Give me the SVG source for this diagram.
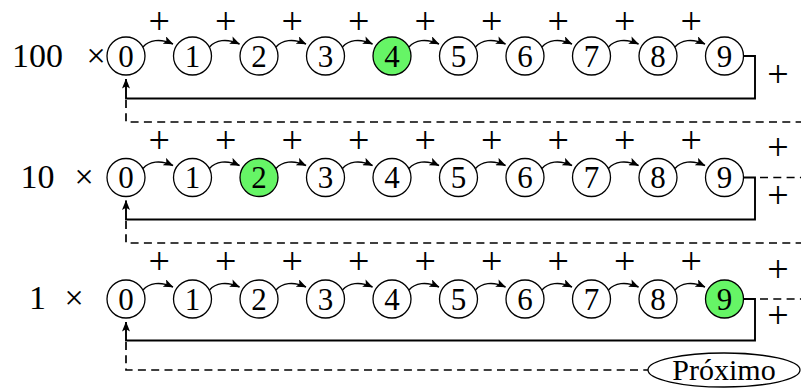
<svg xmlns="http://www.w3.org/2000/svg" width="801" height="388" viewBox="0 0 801 388" font-family="'Liberation Serif', 'DejaVu Serif', serif">
<style>
text{font-family:"Liberation Serif","DejaVu Serif",serif;fill:#000}
.n circle{fill:#fff;stroke:#000;stroke-width:1.3}
.n.g circle{fill:#66f566}
.n text{font-size:31px;text-anchor:middle}
.lab{font-size:34px;text-anchor:middle}
.pl{font-size:38px;text-anchor:middle}
.arc{fill:none;stroke:#000;stroke-width:1.4;marker-end:url(#ah)}
.ret{fill:none;stroke:#000;stroke-width:1.9;marker-end:url(#ah)}
.ds{fill:none;stroke:#000;stroke-width:1.7;stroke-dasharray:8 5.3}
</style>
<defs>
<marker id="ah" viewBox="0 0 10 8" refX="9.5" refY="4" markerWidth="10" markerHeight="8" markerUnits="userSpaceOnUse" orient="auto"><path d="M0,0 L10,4 L0,8 L2.2,4 Z" fill="#000"/></marker>
</defs>

<g id="labels">
<text class="lab" y="67"><tspan x="37.5">100</tspan><tspan x="96">×</tspan></text>
<text class="lab" y="188"><tspan x="37.5">10</tspan><tspan x="84">×</tspan></text>
<text class="lab" y="309"><tspan x="37.5">1</tspan><tspan x="74">×</tspan></text>
</g>

<g id="connectors">
<path class="arc" d="M143,47 C149,40 160,38 173,44"/>
<path class="arc" d="M209.5,47 C215.5,40 226.5,38 239.5,44"/>
<path class="arc" d="M276,47 C282,40 293,38 306,44"/>
<path class="arc" d="M342.5,47 C348.5,40 359.5,38 372.5,44"/>
<path class="arc" d="M409,47 C415,40 426,38 439,44"/>
<path class="arc" d="M475.5,47 C481.5,40 492.5,38 505.5,44"/>
<path class="arc" d="M542,47 C548,40 559,38 572,44"/>
<path class="arc" d="M608.5,47 C614.5,40 625.5,38 638.5,44"/>
<path class="arc" d="M675,47 C681,40 692,38 705,44"/>
<path class="arc" d="M143,168.5 C149,161.5 160,159.5 173,165.5"/>
<path class="arc" d="M209.5,168.5 C215.5,161.5 226.5,159.5 239.5,165.5"/>
<path class="arc" d="M276,168.5 C282,161.5 293,159.5 306,165.5"/>
<path class="arc" d="M342.5,168.5 C348.5,161.5 359.5,159.5 372.5,165.5"/>
<path class="arc" d="M409,168.5 C415,161.5 426,159.5 439,165.5"/>
<path class="arc" d="M475.5,168.5 C481.5,161.5 492.5,159.5 505.5,165.5"/>
<path class="arc" d="M542,168.5 C548,161.5 559,159.5 572,165.5"/>
<path class="arc" d="M608.5,168.5 C614.5,161.5 625.5,159.5 638.5,165.5"/>
<path class="arc" d="M675,168.5 C681,161.5 692,159.5 705,165.5"/>
<path class="arc" d="M143,290 C149,283 160,281 173,287"/>
<path class="arc" d="M209.5,290 C215.5,283 226.5,281 239.5,287"/>
<path class="arc" d="M276,290 C282,283 293,281 306,287"/>
<path class="arc" d="M342.5,290 C348.5,283 359.5,281 372.5,287"/>
<path class="arc" d="M409,290 C415,283 426,281 439,287"/>
<path class="arc" d="M475.5,290 C481.5,283 492.5,281 505.5,287"/>
<path class="arc" d="M542,290 C548,283 559,281 572,287"/>
<path class="arc" d="M608.5,290 C614.5,283 625.5,281 638.5,287"/>
<path class="arc" d="M675,290 C681,283 692,281 705,287"/>
<path class="ret" d="M743.5,56 H755 V98.5 H126 V79"/>
<path class="ret" d="M743.5,177.5 H755 V219.5 H126 V200.5"/>
<path class="ret" d="M743.5,299 H755 V340.5 H126 V322"/>
<path class="ds" d="M126,100 V122 H801"/>
<path class="ds" d="M126,221 V243 H801"/>
<path class="ds" d="M126,342 V370 H648"/>
<path class="ds" d="M760,177.5 H801"/>
<path class="ds" d="M760,299 H801"/>
</g>

<g id="plus">
<text class="pl" y="34"><tspan x="159.25">+</tspan><tspan x="225.75">+</tspan><tspan x="292.25">+</tspan><tspan x="358.75">+</tspan><tspan x="425.25">+</tspan><tspan x="491.75">+</tspan><tspan x="558.25">+</tspan><tspan x="624.75">+</tspan><tspan x="691.25">+</tspan></text>
<text class="pl" y="152.5"><tspan x="159.25">+</tspan><tspan x="225.75">+</tspan><tspan x="292.25">+</tspan><tspan x="358.75">+</tspan><tspan x="425.25">+</tspan><tspan x="491.75">+</tspan><tspan x="558.25">+</tspan><tspan x="624.75">+</tspan><tspan x="691.25">+</tspan></text>
<text class="pl" y="273.5"><tspan x="159.25">+</tspan><tspan x="225.75">+</tspan><tspan x="292.25">+</tspan><tspan x="358.75">+</tspan><tspan x="425.25">+</tspan><tspan x="491.75">+</tspan><tspan x="558.25">+</tspan><tspan x="624.75">+</tspan><tspan x="691.25">+</tspan></text>
<text class="pl" x="778" y="87">+</text>
<text class="pl" x="778" y="160">+</text>
<text class="pl" x="778" y="208">+</text>
<text class="pl" x="778" y="282">+</text>
<text class="pl" x="778" y="328">+</text>
</g>

<g id="r1n0" class="n"><circle cx="126" cy="56" r="19"/><text x="126" y="66.5">0</text></g>
<g id="r1n1" class="n"><circle cx="192.5" cy="56" r="19"/><text x="192.5" y="66.5">1</text></g>
<g id="r1n2" class="n"><circle cx="259" cy="56" r="19"/><text x="259" y="66.5">2</text></g>
<g id="r1n3" class="n"><circle cx="325.5" cy="56" r="19"/><text x="325.5" y="66.5">3</text></g>
<g id="r1n4" class="n g"><circle cx="392" cy="56" r="19"/><text x="392" y="66.5">4</text></g>
<g id="r1n5" class="n"><circle cx="458.5" cy="56" r="19"/><text x="458.5" y="66.5">5</text></g>
<g id="r1n6" class="n"><circle cx="525" cy="56" r="19"/><text x="525" y="66.5">6</text></g>
<g id="r1n7" class="n"><circle cx="591.5" cy="56" r="19"/><text x="591.5" y="66.5">7</text></g>
<g id="r1n8" class="n"><circle cx="658" cy="56" r="19"/><text x="658" y="66.5">8</text></g>
<g id="r1n9" class="n"><circle cx="724.5" cy="56" r="19"/><text x="724.5" y="66.5">9</text></g>

<g id="r2n0" class="n"><circle cx="126" cy="177.5" r="19"/><text x="126" y="188">0</text></g>
<g id="r2n1" class="n"><circle cx="192.5" cy="177.5" r="19"/><text x="192.5" y="188">1</text></g>
<g id="r2n2" class="n g"><circle cx="259" cy="177.5" r="19"/><text x="259" y="188">2</text></g>
<g id="r2n3" class="n"><circle cx="325.5" cy="177.5" r="19"/><text x="325.5" y="188">3</text></g>
<g id="r2n4" class="n"><circle cx="392" cy="177.5" r="19"/><text x="392" y="188">4</text></g>
<g id="r2n5" class="n"><circle cx="458.5" cy="177.5" r="19"/><text x="458.5" y="188">5</text></g>
<g id="r2n6" class="n"><circle cx="525" cy="177.5" r="19"/><text x="525" y="188">6</text></g>
<g id="r2n7" class="n"><circle cx="591.5" cy="177.5" r="19"/><text x="591.5" y="188">7</text></g>
<g id="r2n8" class="n"><circle cx="658" cy="177.5" r="19"/><text x="658" y="188">8</text></g>
<g id="r2n9" class="n"><circle cx="724.5" cy="177.5" r="19"/><text x="724.5" y="188">9</text></g>

<g id="r3n0" class="n"><circle cx="126" cy="299" r="19"/><text x="126" y="309.5">0</text></g>
<g id="r3n1" class="n"><circle cx="192.5" cy="299" r="19"/><text x="192.5" y="309.5">1</text></g>
<g id="r3n2" class="n"><circle cx="259" cy="299" r="19"/><text x="259" y="309.5">2</text></g>
<g id="r3n3" class="n"><circle cx="325.5" cy="299" r="19"/><text x="325.5" y="309.5">3</text></g>
<g id="r3n4" class="n"><circle cx="392" cy="299" r="19"/><text x="392" y="309.5">4</text></g>
<g id="r3n5" class="n"><circle cx="458.5" cy="299" r="19"/><text x="458.5" y="309.5">5</text></g>
<g id="r3n6" class="n"><circle cx="525" cy="299" r="19"/><text x="525" y="309.5">6</text></g>
<g id="r3n7" class="n"><circle cx="591.5" cy="299" r="19"/><text x="591.5" y="309.5">7</text></g>
<g id="r3n8" class="n"><circle cx="658" cy="299" r="19"/><text x="658" y="309.5">8</text></g>
<g id="r3n9" class="n g"><circle cx="724.5" cy="299" r="19"/><text x="724.5" y="309.5">9</text></g>

<g id="proximo"><ellipse cx="724" cy="370" rx="76" ry="17" fill="#fff" stroke="#000" stroke-width="1.3"/><text x="724" y="380" font-size="30" text-anchor="middle">Próximo</text></g>
</svg>
